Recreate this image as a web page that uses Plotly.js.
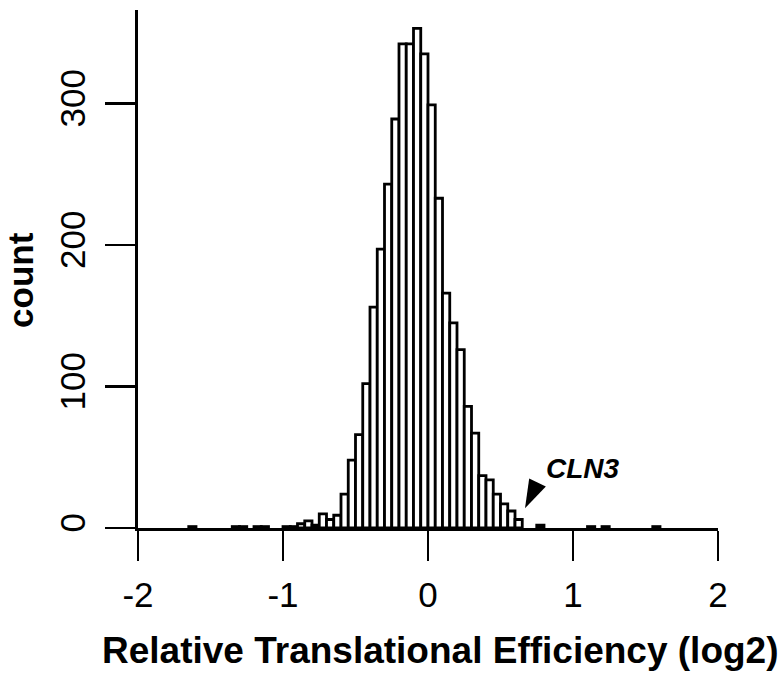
<!DOCTYPE html>
<html>
<head>
<meta charset="utf-8">
<script src="https://cdn.plot.ly/plotly-3.0.1.min.js"></script>
<style>
  html, body { margin: 0; padding: 0; background: #fff; }
  #chart { width: 783px; height: 676px; }
</style>
</head>
<body>
<div id="chart"></div>
<script>
// Histogram of relative translational efficiency (log2), bins of 0.05
const binWidth = 0.05;
const binLeft = [
  -1.65, -1.35, -1.30, -1.20, -1.15, -1.00, -0.95,
  -0.90, -0.85, -0.80, -0.75, -0.70, -0.65, -0.60, -0.55, -0.50, -0.45,
  -0.40, -0.35, -0.30, -0.25, -0.20, -0.15, -0.10, -0.05,
   0.00,  0.05,  0.10,  0.15,  0.20,  0.25,  0.30,  0.35,  0.40,  0.45,
   0.50,  0.55,  0.60,  0.75,  1.10,  1.20,  1.55
];
const counts = [
  1, 1, 1, 1, 1, 1, 1,
  3, 5, 2, 10, 6, 9, 24, 48, 66, 102,
  156, 197, 243, 289, 342, 342, 353, 335,
  299, 233, 166, 145, 126, 86, 67, 37, 34, 24,
  17, 12, 6, 2, 1, 1, 1
];

const xTicks = [-2, -1, 0, 1, 2];
const yTicks = [0, 100, 200, 300];

// CLN3 pointer (arrow tip) and its label
const markerGene = 'CLN3';
const pointerX = [0.669];
const pointerY = [14];
const labelX = 0.80;
const labelY = 42;

const FONT = 'Liberation Sans, Arial, sans-serif';

const bars = {
  type: 'bar',
  x: binLeft.map(b => b + binWidth / 2),
  y: counts,
  width: binWidth,
  marker: { color: '#ffffff', line: { color: '#000000', width: 2.8 } },
  hoverinfo: 'x+y',
};

// arrow symbol: tip sits on the point, rotated to aim down-left
const pointer = {
  type: 'scatter',
  mode: 'markers',
  x: pointerX,
  y: pointerY,
  marker: { symbol: 'arrow', size: 30, angle: 206, color: '#000', line: { width: 0 } },
  hoverinfo: 'skip',
  cliponaxis: false,
};

const axisCommon = {
  showgrid: false,
  zeroline: false,
  showline: true,
  linecolor: '#000',
  linewidth: 2.8,
  ticks: 'outside',
  ticklen: 30,
  tickwidth: 2.8,
  tickcolor: '#000',
  tickfont: { family: FONT, size: 35, color: '#000' },
};

const layout = {
  width: 783,
  height: 676,
  margin: { l: 138, r: 65, t: 10, b: 148 },
  paper_bgcolor: '#fff',
  plot_bgcolor: '#fff',
  showlegend: false,
  bargap: 0,
  xaxis: {
    ...axisCommon,
    range: [-2, 2],
    tickvals: xTicks,
    ticktext: xTicks.map(String),
    ticklabelstandoff: 4,
  },
  yaxis: {
    ...axisCommon,
    range: [0, 366],
    tickvals: yTicks,
    tickangle: -90,
    ticklabelstandoff: 6,
  },
  annotations: [
    {
      text: '<b>Relative Translational Efficiency (log2)</b>',
      xref: 'paper', yref: 'paper', x: 0.52, y: 0,
      xanchor: 'center', yanchor: 'middle', yshift: -122,
      showarrow: false,
      font: { family: FONT, size: 37, color: '#000' },
    },
    {
      text: '<b>count</b>',
      xref: 'paper', yref: 'paper', x: 0, y: 0.479,
      xanchor: 'center', yanchor: 'middle', xshift: -117,
      textangle: -90,
      showarrow: false,
      font: { family: FONT, size: 35, color: '#000' },
    },
    {
      text: '<b><i>' + markerGene + '</i></b>',
      xref: 'x', yref: 'y', x: labelX, y: labelY,
      xanchor: 'left', yanchor: 'middle',
      showarrow: false,
      font: { family: FONT, size: 28, color: '#000' },
    },
  ],
};

Plotly.newPlot('chart', [bars, pointer], layout, { displayModeBar: false, staticPlot: true });
</script>
</body>
</html>
